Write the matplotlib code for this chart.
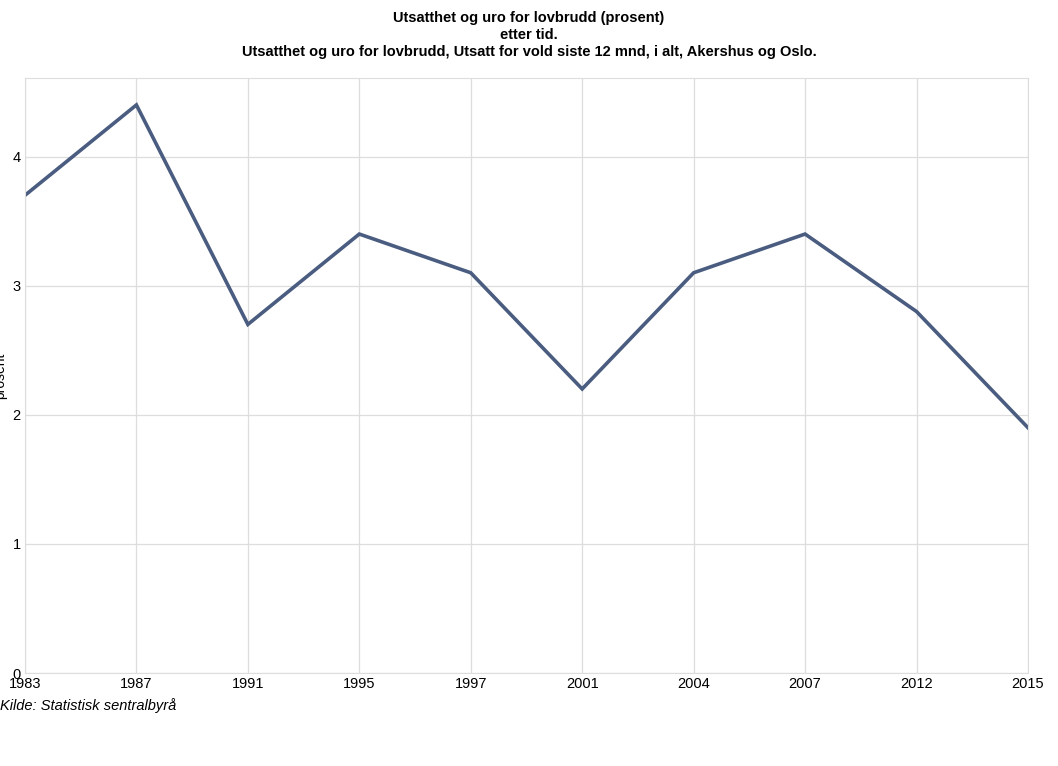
import matplotlib.pyplot as plt

plt.rcParams['font.family'] = 'Liberation Sans'

years = ['1983', '1987', '1991', '1995', '1997', '2001', '2004', '2007', '2012', '2015']
values = [3.7, 4.4, 2.7, 3.4, 3.1, 2.2, 3.1, 3.4, 2.8, 1.9]
yticks = [0, 1, 2, 3, 4]

fig = plt.figure(figsize=(10.58, 7.66), dpi=100)
ax = fig.add_axes([0.0236, 0.1214, 0.948, 0.777])

x = list(range(len(years)))
ax.plot(x, values, color='#4a5d80', linewidth=2.6, solid_joinstyle='miter')

ax.set_xlim(0, len(years) - 1)
ax.set_ylim(0, 4.61)
ax.set_xticks(x)
ax.set_xticklabels(years, fontsize=10.5)
ax.set_yticks(yticks)
ax.set_yticklabels([str(t) for t in yticks], fontsize=10.5)
ax.tick_params(length=0, pad=3)
ax.grid(True, color='#dddddd', linewidth=0.9)
ax.set_axisbelow(True)
for s in ax.spines.values():
    s.set_color('#dddddd')
ax.set_ylabel('prosent', fontsize=10, labelpad=4)

fig.text(0.5, 0.985, 'Utsatthet og uro for lovbrudd (prosent)\netter tid.\n'
         'Utsatthet og uro for lovbrudd, Utsatt for vold siste 12 mnd, i alt, Akershus og Oslo.',
         ha='center', va='top', fontsize=10.5, fontweight='bold', linespacing=1.25)
fig.text(0.0, 0.073, 'Kilde: Statistisk sentralbyrå', fontsize=10.5, style='italic')

fig.savefig('out.png', dpi=100)
